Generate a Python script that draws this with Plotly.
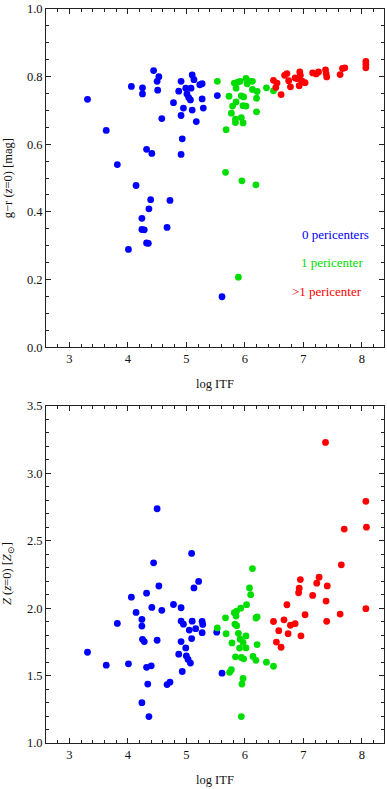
import plotly.graph_objects as go

# ---------------- data: top panel, g-r colour ----------------
gr_itf_0 = [3.31, 3.63, 3.82, 4.01, 4.06, 4.14, 4.24, 4.24, 4.28, 4.25, 4.25, 4.32, 4.41, 4.32, 4.35,
            4.36, 4.39, 4.44, 4.50, 4.53, 4.51, 4.58, 4.67, 4.72, 4.78, 4.87, 4.91, 4.91, 4.91, 4.93,
            4.95, 4.99, 5.01, 5.04, 5.07, 5.08, 5.10, 5.13, 5.10, 5.17, 5.23, 5.27, 5.27, 5.29, 5.53, 5.61]
gr_0 = [0.733, 0.641, 0.540, 0.289, 0.771, 0.478, 0.381, 0.348, 0.347, 0.767, 0.749, 0.585, 0.573, 0.308, 0.307,
        0.409, 0.436, 0.818, 0.786, 0.800, 0.760, 0.676, 0.354, 0.434, 0.723, 0.757, 0.786, 0.685, 0.570, 0.616,
        0.707, 0.766, 0.749, 0.738, 0.731, 0.766, 0.805, 0.791, 0.701, 0.667, 0.776, 0.779, 0.734, 0.707, 0.744, 0.149]

gr_itf_1 = [5.53, 5.73, 5.82, 5.85, 5.88, 5.92, 6.02, 6.07, 6.13, 6.04, 6.13, 6.21, 6.37, 6.49, 5.94, 5.98,
            6.20, 5.85, 5.79, 5.97, 6.02, 5.77, 6.20, 5.84, 5.84, 5.94, 5.97, 5.68, 5.67, 5.95, 6.19, 5.89]
gr_1 = [0.786, 0.742, 0.781, 0.766, 0.784, 0.786, 0.795, 0.787, 0.786, 0.779, 0.762, 0.756, 0.767, 0.758, 0.743, 0.740,
        0.736, 0.725, 0.713, 0.714, 0.713, 0.692, 0.696, 0.674, 0.664, 0.679, 0.663, 0.643, 0.517, 0.492, 0.480, 0.207]

gr_itf_2 = [6.49, 6.55, 6.53, 6.62, 6.68, 6.72, 6.75, 6.78, 6.86, 6.90, 6.94, 6.95, 6.93, 6.98, 7.03,
            7.16, 7.22, 7.26, 7.38, 7.39, 7.40, 7.63, 7.67, 7.71, 8.07, 8.07, 8.07]
gr_2 = [0.789, 0.781, 0.768, 0.747, 0.804, 0.809, 0.788, 0.770, 0.796, 0.794, 0.814, 0.804, 0.773, 0.787, 0.782,
        0.811, 0.808, 0.814, 0.820, 0.809, 0.799, 0.806, 0.824, 0.826, 0.845, 0.836, 0.826]

# ---------------- data: bottom panel, metallicity ----------------
z_itf_0 = [3.31, 3.63, 3.82, 4.01, 4.06, 4.14, 4.24, 4.24, 4.25, 4.28, 4.24, 4.32, 4.41, 4.32, 4.40, 4.34,
           4.36, 4.44, 4.50, 4.53, 4.50, 4.58, 4.67, 4.72, 4.78, 4.87, 4.91, 4.91, 4.95, 4.91, 4.93, 4.99,
           5.00, 5.03, 5.07, 5.05, 5.09, 5.10, 5.09, 5.13, 5.16, 5.21, 5.27, 5.28, 5.27, 5.52, 5.61]
z_0 = [1.673, 1.577, 1.887, 1.587, 2.081, 1.968, 1.916, 1.867, 1.769, 1.752, 1.299, 2.111, 2.005, 1.561, 1.572, 1.437,
       1.196, 2.336, 2.737, 2.164, 1.762, 1.984, 1.433, 1.451, 2.027, 1.659, 2.003, 1.904, 1.881, 1.752, 1.530, 1.705,
       1.646, 1.620, 1.593, 1.837, 2.406, 1.903, 1.774, 2.150, 1.848, 2.198, 1.902, 1.879, 1.818, 1.822, 1.518]

z_itf_1 = [5.53, 5.67, 5.68, 5.74, 5.77, 5.78, 5.82, 5.86, 5.93, 5.85, 5.83, 5.86, 5.89, 5.92, 5.97, 5.91, 6.02,
           5.84, 5.94, 5.98, 6.02, 6.03, 6.08, 6.10, 6.13, 6.19, 6.21, 6.21, 6.14, 6.19, 6.37, 6.49, 5.97, 5.95, 5.94]
z_1 = [1.853, 1.928, 1.810, 1.524, 1.543, 1.742, 1.966, 1.978, 2.000, 1.941, 1.882, 1.870, 1.813, 1.770, 1.746, 1.704, 1.705,
       1.639, 1.634, 1.624, 1.794, 2.026, 2.150, 2.100, 2.293, 1.927, 1.935, 1.730, 1.642, 1.613, 1.599, 1.569, 1.479, 1.437, 1.196]

z_itf_2 = [6.49, 6.54, 6.58, 6.62, 6.67, 6.72, 6.74, 6.78, 6.86, 6.93, 6.92, 6.95, 6.96, 7.03, 7.16, 7.23,
           7.27, 7.38, 7.39, 7.40, 7.41, 7.63, 7.65, 7.70, 8.07, 8.08, 8.07]
z_2 = [1.901, 1.748, 1.833, 1.710, 1.913, 2.025, 1.811, 1.873, 1.885, 2.148, 2.114, 2.212, 1.795, 1.951, 2.094, 2.185,
       2.229, 3.229, 2.052, 1.902, 2.165, 1.956, 2.321, 2.586, 2.792, 2.600, 1.996]

legend_labels = ["0 pericenters", "1 pericenter", ">1 pericenter"]
colors = ["#0000ff", "#00dd00", "#ff0000"]

FONT = "Liberation Serif, Times New Roman, serif"
MS = 6.8

fig = go.Figure()
top = [(gr_itf_0, gr_0), (gr_itf_1, gr_1), (gr_itf_2, gr_2)]
bot = [(z_itf_0, z_0), (z_itf_1, z_1), (z_itf_2, z_2)]
for (x, y), c, name in zip(top, colors, legend_labels):
    fig.add_trace(go.Scatter(x=x, y=y, mode="markers", name=name,
                             marker=dict(color=c, size=MS, line=dict(width=0)),
                             xaxis="x", yaxis="y", showlegend=False))
for (x, y), c, name in zip(bot, colors, legend_labels):
    fig.add_trace(go.Scatter(x=x, y=y, mode="markers", name=name,
                             marker=dict(color=c, size=MS, line=dict(width=0)),
                             xaxis="x2", yaxis="y2", showlegend=False))

tickfont = dict(family=FONT, size=12.5, color="#111")


def xax(anchor):
    return dict(range=[2.6, 8.38], anchor=anchor, domain=[0, 1],
                showline=True, linecolor="#222", linewidth=1, mirror="ticks",
                ticks="inside", ticklen=5, tickcolor="#222", tickwidth=1,
                tick0=0, dtick=1, tickfont=tickfont, showgrid=False, zeroline=False,
                minor=dict(ticks="inside", ticklen=3, dtick=0.2, tick0=0, tickcolor="#222", showgrid=False))


def yax(anchor, rng, dtick, mdtick, dom):
    return dict(range=rng, anchor=anchor, domain=dom,
                showline=True, linecolor="#222", linewidth=1, mirror="ticks",
                ticks="inside", ticklen=5, tickcolor="#222", tickwidth=1,
                tick0=0, dtick=dtick, tickformat=".1f", tickfont=tickfont,
                showgrid=False, zeroline=False,
                minor=dict(ticks="inside", ticklen=3, dtick=mdtick, tick0=0, tickcolor="#222", showgrid=False))


fig.update_layout(
    width=387, height=789,
    margin=dict(l=46, r=2, t=5, b=46),
    paper_bgcolor="white", plot_bgcolor="white",
    font=dict(family=FONT, size=12, color="#111"),
    xaxis=xax("y"),
    yaxis=yax("x", [0, 1.0], 0.2, 0.05, [1 - 340 / 738, 1]),
    xaxis2=xax("y2"),
    yaxis2=yax("x2", [1.0, 3.5], 0.5, 0.1, [0, 339 / 738]),
)

ann = []
# axis titles
ann.append(dict(text="log ITF", x=0.5, y=(743 - 382) / 738, xref="paper", yref="paper",
                showarrow=False, xanchor="center", yanchor="middle", font=dict(family=FONT, size=12.5)))
ann.append(dict(text="log ITF", x=0.5, y=(743 - 780) / 738, xref="paper", yref="paper",
                showarrow=False, xanchor="center", yanchor="middle", font=dict(family=FONT, size=12.5)))
ann.append(dict(text="g\u2212r (<i>z</i>=0) [mag]", x=(8 - 46) / 339, y=(743 - 175) / 738,
                xref="paper", yref="paper", textangle=-90, showarrow=False,
                xanchor="center", yanchor="middle", font=dict(family=FONT, size=12.5)))
ann.append(dict(text="<i>Z</i> (<i>z</i>=0) [<i>Z</i><sub>\u2299</sub>]", x=(8 - 46) / 339, y=(743 - 573) / 738,
                xref="paper", yref="paper", textangle=-90, showarrow=False,
                xanchor="center", yanchor="middle", font=dict(family=FONT, size=12.5)))
# legend text
leg_pos = [(336.7, 232), (333, 260), (328, 289)]
for (px, py), c, t in zip(leg_pos, colors, legend_labels):
    ann.append(dict(text=t, x=(px - 46) / 339, y=(743 - py) / 738, xref="paper", yref="paper",
                    showarrow=False, xanchor="center", yanchor="middle",
                    font=dict(family=FONT, size=13, color=c)))
fig.update_layout(annotations=ann)

fig.write_html("out.html", config={"displayModeBar": False},
               post_script="document.body.style.margin='0';document.body.style.overflow='hidden';")
